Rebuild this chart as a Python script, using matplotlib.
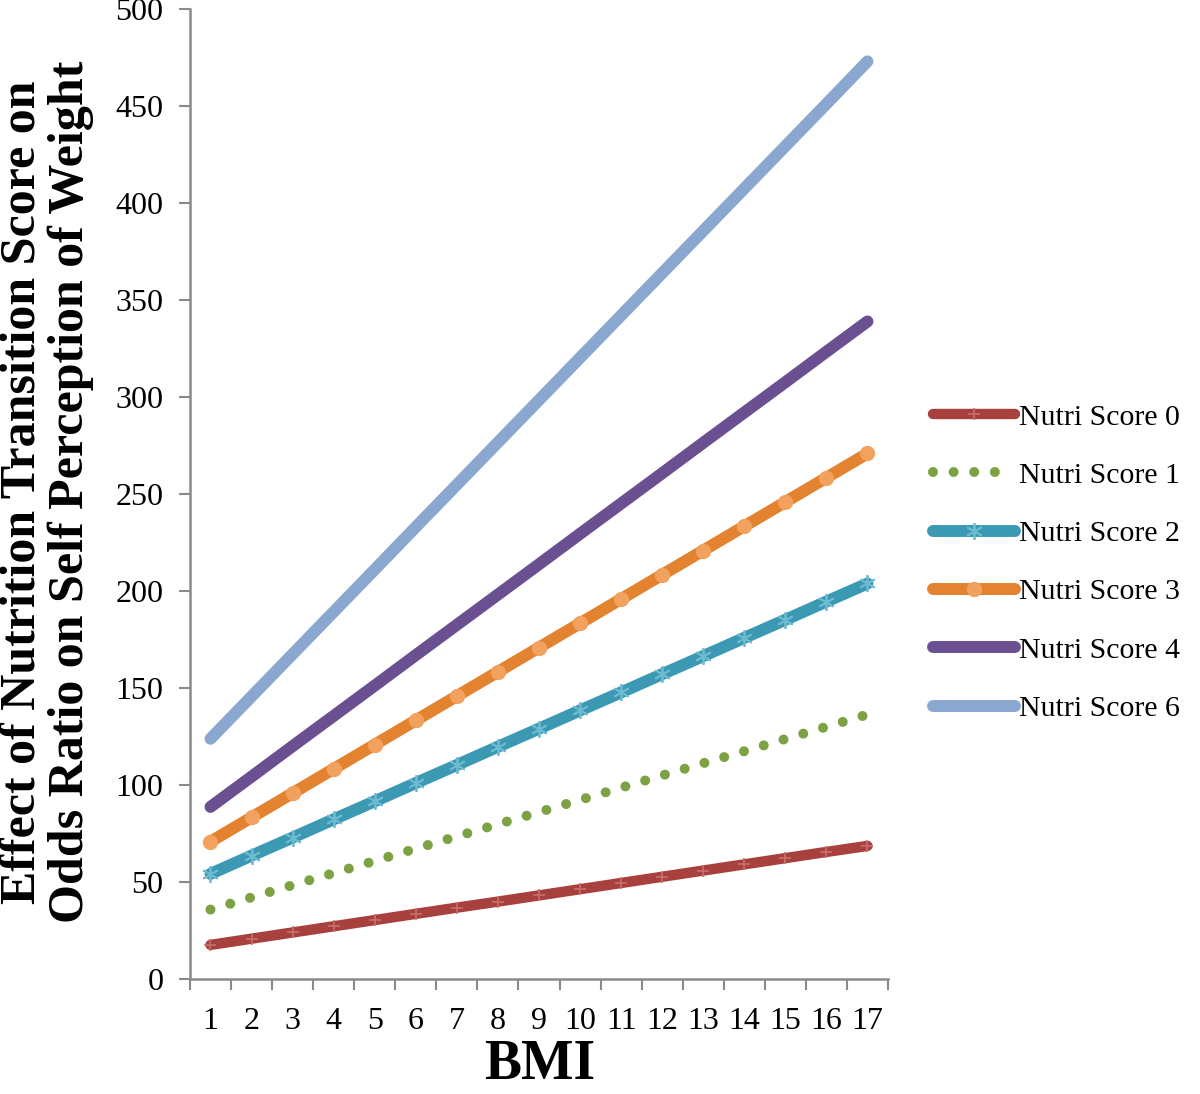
import numpy as np
from matplotlib import pyplot as plt

bmi = list(range(1, 18))

score0 = [17.8, 21.0, 24.2, 27.4, 30.6, 33.8, 37.0, 40.1, 43.3, 46.5, 49.7, 52.9, 56.1, 59.3, 62.5, 65.7, 68.8]
score1 = [36.0, 42.3, 48.6, 54.8, 61.1, 67.4, 73.7, 80.0, 86.2, 92.5, 98.8, 105.1, 111.4, 117.6, 123.9, 130.2, 136.5]
score2 = [54.4, 63.8, 73.1, 82.5, 91.8, 101.2, 110.5, 119.9, 129.2, 138.6, 147.9, 157.3, 166.6, 176.0, 185.3, 194.7, 204.0]
score3 = [71.0, 83.5, 96.0, 108.5, 121.0, 133.5, 146.0, 158.5, 171.0, 183.5, 196.0, 208.5, 221.0, 233.5, 246.0, 258.5, 271.0]
score4 = [88.9, 104.5, 120.2, 135.8, 151.4, 167.1, 182.7, 198.3, 213.9, 229.6, 245.2, 260.8, 276.5, 292.1, 307.7, 323.4, 339.0]
score6 = [124.0, 145.8, 167.6, 189.4, 211.2, 233.1, 254.9, 276.7, 298.5, 320.3, 342.1, 363.9, 385.7, 407.5, 429.3, 451.1, 473.0]

labels = ["Nutri Score 0", "Nutri Score 1", "Nutri Score 2", "Nutri Score 3", "Nutri Score 4", "Nutri Score 6"]

red = "#A8413E"
green = "#7DA243"
teal = "#3B99B3"
orange = "#E3822F"
purple = "#6A4F91"
lightblue = "#8AA7D0"

plt.rcParams["font.family"] = "Liberation Serif"

fig = plt.figure(figsize=(12, 10.94), dpi=100)
ax = fig.add_axes([0.1583, 0.1047, 0.5817, 0.8871])

lw = 8.6
ax.plot(bmi, score0, color=red, lw=7.5, solid_capstyle="round", marker="+", ms=9, mew=1.2,
        mec="#C8706C", label=labels[0])
ax.plot(bmi, score1, color=green, lw=7.2, linestyle=(0, (0.001, 2.06)), dash_capstyle="round",
        label=labels[1])
ax.plot(bmi, score2, color=teal, lw=lw, solid_capstyle="round", marker=(6, 2, 0), ms=12, mew=1.3,
        mec="#6DBBD0", label=labels[2])
ax.plot(bmi, score3, color=orange, lw=lw, solid_capstyle="round", marker="o", ms=10,
        mfc="#F2A25E", mec="#F2A25E", label=labels[3])
ax.plot(bmi, score4, color=purple, lw=lw, solid_capstyle="round", label=labels[4])
ax.plot(bmi, score6, color=lightblue, lw=lw, solid_capstyle="round", label=labels[5])

ax.set_xlim(0.5, 17.5)
ax.set_ylim(0, 500)
ax.set_yticks(range(0, 501, 50))
ax.set_xticks(bmi)
ax.set_xticks(np.arange(0.5, 18, 1), minor=True)
ax.tick_params(axis="x", which="major", length=0, pad=20, labelsize=23)
ax.tick_params(axis="x", which="minor", length=8, width=1.5, color="#8a8a8a")
ax.tick_params(axis="y", length=8, width=1.5, color="#8a8a8a", pad=11, labelsize=23)

for side in ["top", "right"]:
    ax.spines[side].set_visible(False)
for side in ["left", "bottom"]:
    ax.spines[side].set_color("#8a8a8a")
    ax.spines[side].set_linewidth(1.8)

fig.text(0.45, 0.003, "BMI", ha="center", va="bottom", fontsize=40, fontweight="bold")
fig.text(0.039, 0.55, "Effect of Nutrition Transition Score on\nOdds Ratio on Self Perception of Weight",
         rotation=90, ha="center", va="center", multialignment="center", fontsize=36,
         fontweight="bold", linespacing=1.08)

leg = ax.legend(loc="center left", bbox_to_anchor=(0.7675, 0.4855), bbox_transform=fig.transFigure,
                frameon=False, fontsize=21.5, handlelength=2.75, handletextpad=0.12,
                labelspacing=1.05, borderaxespad=0)

plt.savefig("out.png", dpi=100)
